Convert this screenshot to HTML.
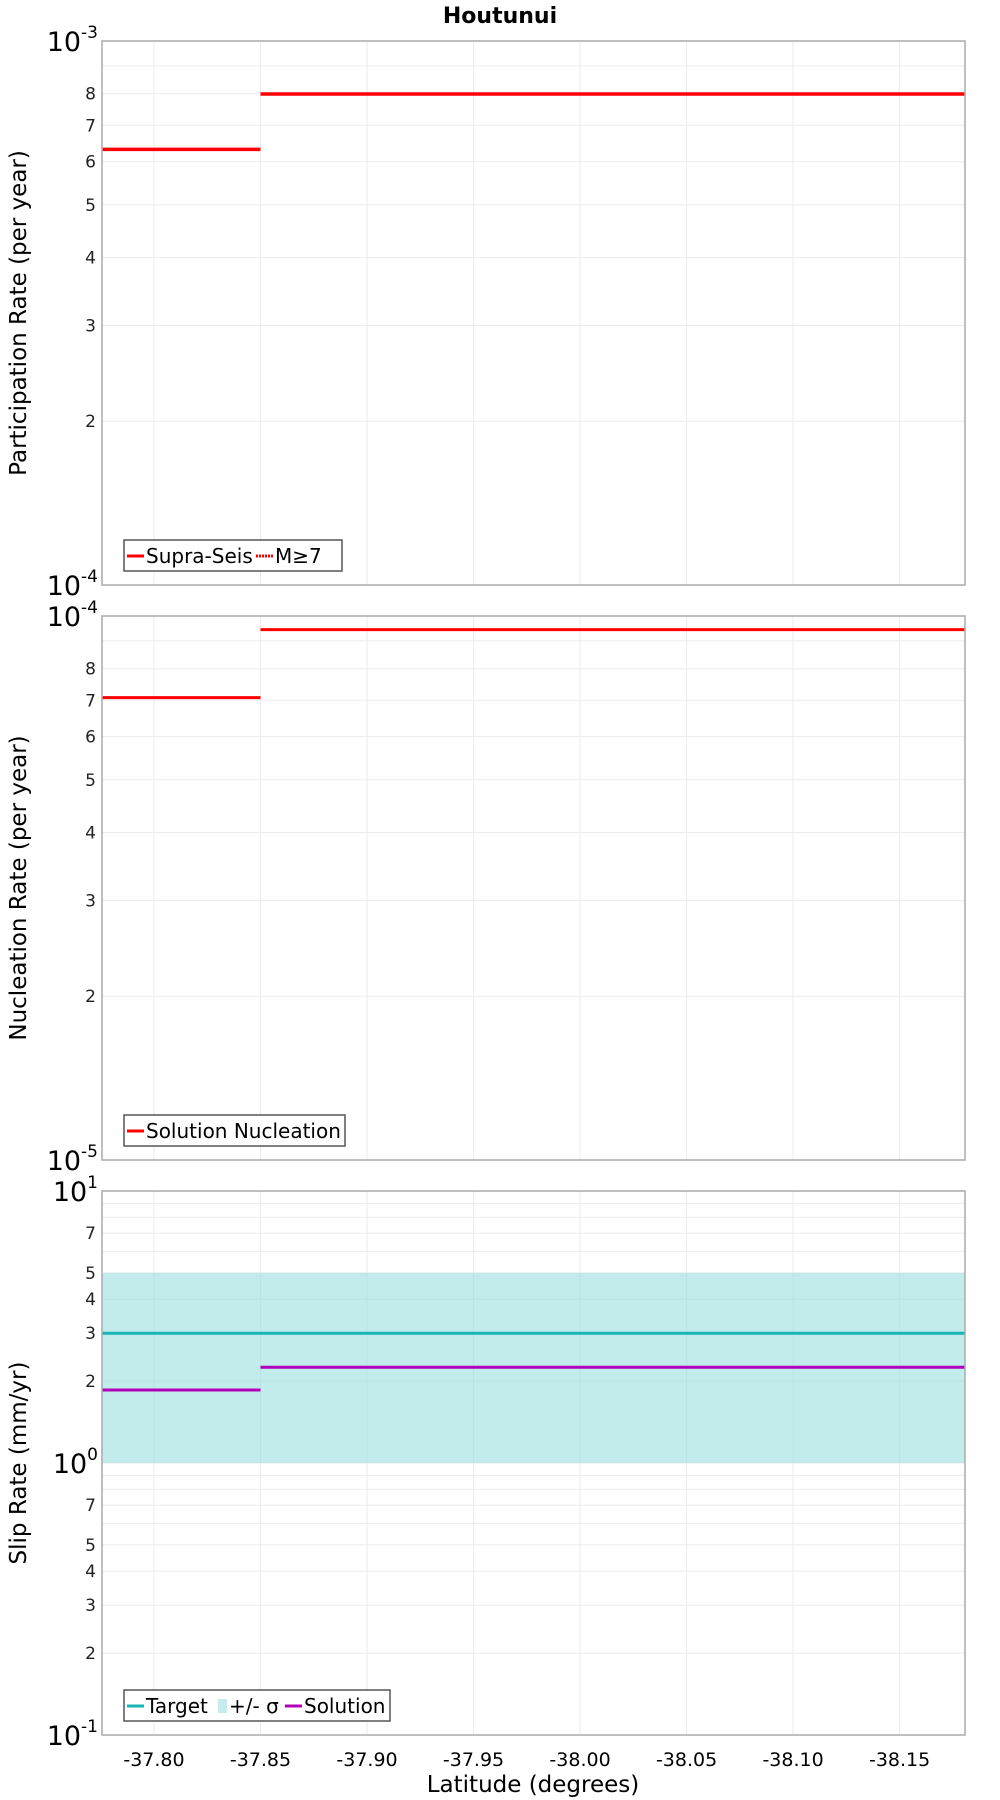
<!DOCTYPE html>
<html><head><meta charset="utf-8"><style>
body{margin:0;background:#fff}
svg{display:block;font-family:"DejaVu Sans","Liberation Sans",sans-serif}
</style></head><body>
<svg id="chart" width="1000" height="1800" xmlns="http://www.w3.org/2000/svg">
<text x="500" y="23" text-anchor="middle" font-size="22" font-weight="bold">Houtunui</text>
<text x="533" y="1792" text-anchor="middle" font-size="23">Latitude (degrees)</text>
</svg>
<script>
const xTicks=[-37.80,-37.85,-37.90,-37.95,-38.00,-38.05,-38.10,-38.15];
const segStart=[-37.7756,-37.85];
const segEnd=[-37.85,-38.1807];
const partSupra=[6.32e-4,7.99e-4];
const partM7=[6.32e-4,7.99e-4];
const nucl=[7.08e-5,9.44e-5];
const slipTarget=[3,3];
const slipLow=[1,1];
const slipHigh=[5,5];
const slipSol=[1.855,2.25];

const NS="http://www.w3.org/2000/svg";
const svg=document.getElementById('chart');
const L=102,R=965,xMin=-37.7756,xMax=-38.1807;
const X=v=>L+(v-xMin)/(xMax-xMin)*(R-L);
function mk(tag,attrs,parent){const e=document.createElementNS(NS,tag);for(const k in attrs)e.setAttribute(k,attrs[k]);(parent||svg).appendChild(e);return e;}

function panel(top,bot,lo,hi,minorLabels,yTitle,name){
  const g=mk('g',{});
  
  
  const Y=v=>bot-(Math.log10(v)-lo)/(hi-lo)*(bot-top);
  for(let d=lo;d<hi;d++){for(let m=1;m<=9;m++){const v=m*Math.pow(10,d);if(m>1||d>lo){const y=Y(v);const l=mk('line',{x1:L,x2:R,y1:y,y2:y,stroke:'#ebebeb','stroke-width':1},g);}
    if(m>1&&minorLabels.includes(m)){const t=mk('text',{x:96,y:Y(v)+6,'text-anchor':'end','font-size':17,fill:'#222'},g);t.textContent=m;}}}
  xTicks.forEach(v=>{const l=mk('line',{x1:X(v),x2:X(v),y1:top,y2:bot,stroke:'#ebebeb','stroke-width':1},g);});
  for(let d=lo;d<=hi;d++){const t=mk('text',{x:98,y:Y(Math.pow(10,d))+10,'text-anchor':'end','font-size':27},g);
    t.innerHTML='10<tspan dy="-13" font-size="17">'+d+'</tspan>';}
  const yt=mk('text',{transform:`translate(26,${(top+bot)/2}) rotate(-90)`,'text-anchor':'middle','font-size':23},g);yt.textContent=yTitle;
  return {g,Y,top,bot};
}
function frame(p){const r=mk('rect',{x:L,y:p.top,width:R-L,height:p.bot-p.top,fill:'none',stroke:'#aaa','stroke-width':1.5},p.g);}
function seg(p,vals,color,w,dash,name){vals.forEach((v,i)=>{const l=mk('line',{x1:X(segStart[i]),x2:X(segEnd[i]),y1:p.Y(v),y2:p.Y(v),stroke:color,'stroke-width':w},p.g);if(dash)l.setAttribute('stroke-dasharray',dash);});}
function legend(p,y,w,items){const g=mk('g',{},p.g);
  mk('rect',{x:124,y:y,width:w,height:31,fill:'#fff',stroke:'#555','stroke-width':1.5},g);
  let x=127;items.forEach(it=>{const e=mk('g',{},g);
    if(it.box){mk('rect',{x:x+2,y:y+9,width:9,height:14,fill:it.color},e);x+=13;}
    else{const l=mk('line',{x1:x,x2:x+17,y1:y+16,y2:y+16,stroke:it.color,'stroke-width':3},e);if(it.dash)l.setAttribute('stroke-dasharray',it.dash);x+=19;}
    const t=mk('text',{x:x,y:y+23,'font-size':20},e);t.textContent=it.label;x+=it.tw;});}

const p1=panel(41,585,-4,-3,[2,3,4,5,6,7,8],'Participation Rate (per year)','participation-panel');
seg(p1,partSupra,'#ff0000',3.5,null,'supra-seis-line');
seg(p1,partM7,'#ff0000',2,'2,1','m7-line');
frame(p1);
legend(p1,540,218,[{color:'#f00',label:'Supra-Seis',tw:110},{color:'#f00',dash:'2,1',label:'M≥7',tw:50}]);

const p2=panel(616,1160,-5,-4,[2,3,4,5,6,7,8],'Nucleation Rate (per year)','nucleation-panel');
seg(p2,nucl,'#ff0000',3,null,'nucleation-line');
frame(p2);
legend(p2,1115,221,[{color:'#f00',label:'Solution Nucleation',tw:200}]);

const p3=panel(1191,1735,-1,1,[2,3,4,5,7],'Slip Rate (mm/yr)','slip-panel');
slipLow.forEach((v,i)=>{const r=mk('rect',{x:X(segStart[i]),width:X(segEnd[i])-X(segStart[i]),y:p3.Y(slipHigh[i]),height:p3.Y(v)-p3.Y(slipHigh[i]),fill:'#9adedd','fill-opacity':0.6},p3.g);});
seg(p3,slipTarget,'#17b5b5',3,null,'target-line');
seg(p3,slipSol,'#b000b8',3,null,'solution-line');
frame(p3);
legend(p3,1690,266,[{color:'#17b5b5',label:'Target',tw:70},{color:'#c5ecec',box:true,label:'+/- σ',tw:56},{color:'#b000b8',label:'Solution',tw:80}]);

const xg=mk('g',{});


xTicks.forEach(v=>{const t=mk('text',{x:X(v),y:1766,'text-anchor':'middle','font-size':19},xg);t.textContent=v.toFixed(2);});
</script>
</body></html>
